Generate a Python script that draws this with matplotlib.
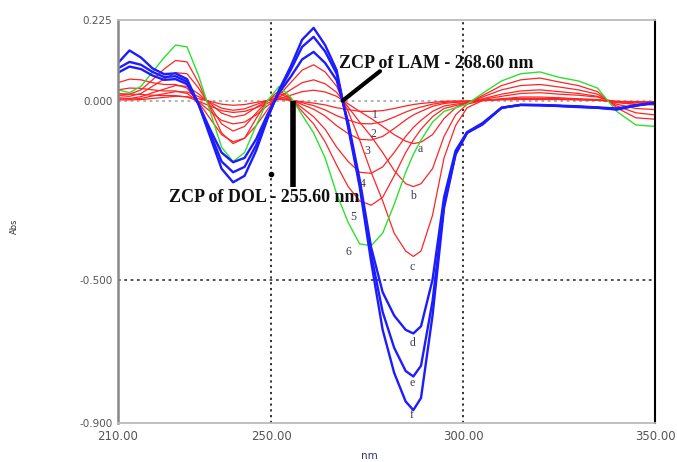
import matplotlib.pyplot as plt

# wavelength grid (nm)
wl = [210, 213, 216, 219, 222, 225, 228, 231, 234, 237, 240, 243, 246, 249, 252, 255, 258,
      261, 264, 267, 270, 273, 276, 279, 282, 285, 287, 289, 292, 295, 298, 301, 305, 310,
      315, 320, 325, 330, 335, 340, 345, 350]

# DOL curves 1-5 (red) and 6 (green)
dol1 = [0.002, 0.002, 0.003, 0.006, 0.009, 0.012, 0.011, 0.005, -0.002, -0.010, -0.013, -0.011,
        -0.005, 0.000, 0.003, 0.001, -0.003, -0.007, -0.012, -0.020, -0.025, -0.030, -0.030, -0.028,
        -0.022, -0.015, -0.011, -0.008, -0.005, -0.002, -0.001, -0.001, 0.001, 0.004, 0.006, 0.006,
        0.005, 0.004, 0.003, -0.002, -0.005, -0.005]
dol2 = [0.005, 0.004, 0.006, 0.013, 0.019, 0.025, 0.024, 0.011, -0.005, -0.021, -0.027, -0.023,
        -0.011, 0.000, 0.006, 0.002, -0.006, -0.014, -0.026, -0.042, -0.054, -0.064, -0.065, -0.059,
        -0.046, -0.032, -0.024, -0.018, -0.010, -0.005, -0.003, -0.002, 0.003, 0.012, 0.020, 0.022,
        0.018, 0.015, 0.010, -0.005, -0.011, -0.012]
dol3 = [0.008, 0.006, 0.011, 0.022, 0.032, 0.042, 0.040, 0.019, -0.008, -0.035, -0.046, -0.040,
        -0.019, 0.000, 0.011, 0.003, -0.011, -0.024, -0.043, -0.070, -0.092, -0.108, -0.110, -0.100,
        -0.078, -0.054, -0.040, -0.030, -0.016, -0.008, -0.005, -0.003, 0.005, 0.018, 0.027, 0.030,
        0.025, 0.020, 0.012, -0.010, -0.022, -0.025]
dol4 = [0.014, 0.012, 0.020, 0.040, 0.060, 0.078, 0.075, 0.035, -0.015, -0.065, -0.085, -0.072,
        -0.035, 0.000, 0.020, 0.005, -0.020, -0.045, -0.080, -0.130, -0.170, -0.200, -0.203, -0.185,
        -0.145, -0.100, -0.075, -0.055, -0.030, -0.015, -0.010, -0.005, 0.010, 0.030, 0.042, 0.045,
        0.038, 0.030, 0.018, -0.015, -0.034, -0.040]
dol5 = [0.020, 0.018, 0.030, 0.058, 0.088, 0.112, 0.108, 0.050, -0.020, -0.090, -0.120, -0.105,
        -0.050, 0.000, 0.028, 0.007, -0.030, -0.065, -0.115, -0.180, -0.240, -0.280, -0.292, -0.270,
        -0.210, -0.145, -0.110, -0.080, -0.045, -0.022, -0.014, -0.007, 0.014, 0.042, 0.058, 0.063,
        0.052, 0.042, 0.025, -0.020, -0.048, -0.052]
dol6 = [0.030, 0.022, 0.040, 0.080, 0.120, 0.155, 0.150, 0.070, -0.030, -0.130, -0.170, -0.145,
        -0.070, 0.000, 0.040, 0.010, -0.040, -0.090, -0.160, -0.260, -0.340, -0.400, -0.405, -0.370,
        -0.290, -0.200, -0.150, -0.110, -0.060, -0.030, -0.020, -0.010, 0.020, 0.055, 0.075, 0.080,
        0.065, 0.055, 0.035, -0.030, -0.068, -0.072]

# LAM curves a-c (red) and d-f (blue)
lam_a = [0.015, 0.018, 0.017, 0.015, 0.014, 0.014, 0.010, -0.002, -0.015, -0.028, -0.033, -0.030,
         -0.020, -0.007, 0.005, 0.015, 0.025, 0.029, 0.024, 0.012, -0.009, -0.030, -0.050, -0.072,
         -0.095, -0.113, -0.120, -0.116, -0.095, -0.050, -0.020, -0.005, 0.000, 0.002, 0.003, 0.003,
         0.003, 0.002, 0.001, -0.002, -0.003, -0.003]
lam_b = [0.030, 0.035, 0.034, 0.030, 0.027, 0.027, 0.020, -0.003, -0.030, -0.055, -0.065, -0.060,
         -0.040, -0.014, 0.010, 0.030, 0.050, 0.058, 0.047, 0.023, -0.018, -0.060, -0.100, -0.145,
         -0.195, -0.232, -0.240, -0.232, -0.190, -0.100, -0.040, -0.010, 0.000, 0.004, 0.006, 0.006,
         0.005, 0.003, 0.001, -0.003, -0.006, -0.006]
lam_c = [0.050, 0.060, 0.058, 0.050, 0.045, 0.045, 0.035, -0.005, -0.050, -0.095, -0.115, -0.105,
         -0.070, -0.025, 0.015, 0.050, 0.085, 0.100, 0.080, 0.040, -0.030, -0.110, -0.200, -0.280,
         -0.370, -0.420, -0.435, -0.420, -0.320, -0.160, -0.070, -0.020, 0.000, 0.005, 0.010, 0.010,
         0.008, 0.005, 0.002, -0.005, -0.010, -0.010]
lam_d = [0.078, 0.095, 0.088, 0.070, 0.058, 0.060, 0.046, -0.010, -0.080, -0.145, -0.172, -0.160,
         -0.108, -0.038, 0.022, 0.066, 0.115, 0.136, 0.105, 0.057, -0.060, -0.220, -0.410, -0.535,
         -0.600, -0.640, -0.650, -0.630, -0.500, -0.270, -0.140, -0.088, -0.063, -0.020, -0.012, -0.012,
         -0.014, -0.016, -0.019, -0.022, -0.013, -0.006]
lam_e = [0.090, 0.108, 0.100, 0.080, 0.066, 0.068, 0.053, -0.010, -0.090, -0.170, -0.200, -0.185,
         -0.125, -0.045, 0.027, 0.085, 0.150, 0.178, 0.137, 0.075, -0.068, -0.230, -0.430, -0.590,
         -0.690, -0.755, -0.770, -0.740, -0.560, -0.290, -0.150, -0.090, -0.065, -0.020, -0.012, -0.013,
         -0.015, -0.017, -0.020, -0.024, -0.014, -0.006]
lam_f = [0.105, 0.140, 0.120, 0.090, 0.074, 0.076, 0.060, -0.010, -0.100, -0.190, -0.228, -0.210,
         -0.140, -0.050, 0.030, 0.095, 0.170, 0.203, 0.155, 0.085, -0.075, -0.240, -0.450, -0.640,
         -0.760, -0.840, -0.864, -0.830, -0.600, -0.300, -0.150, -0.090, -0.067, -0.020, -0.012, -0.013,
         -0.015, -0.018, -0.020, -0.025, -0.014, -0.006]

# curve labels and where they sit (nm, Abs)
labels = ["1", "2", "3", "4", "5", "6", "a", "b", "c", "d", "e", "f"]
label_x = [276.9, 276.5, 274.9, 273.9, 271.3, 270.0, 288.7, 286.9, 286.6, 286.9, 286.6, 286.6]
label_y = [-0.039, -0.094, -0.142, -0.233, -0.325, -0.422, -0.136, -0.267, -0.464, -0.678, -0.789, -0.878]

red = "#ff2424"
blue = "#1c1cff"
green = "#2ee02e"

fig = plt.figure(figsize=(6.77, 4.62), dpi=100)
ax = fig.add_axes([0.1743, 0.0844, 0.7932, 0.8723])

for y in [dol1, dol2, dol3, dol4, dol5, lam_a, lam_b, lam_c]:
    ax.plot(wl, y, color=red, lw=0.9, solid_joinstyle="round")
ax.plot(wl, dol6, color=green, lw=1.0, solid_joinstyle="round")
for y in [lam_d, lam_e, lam_f]:
    ax.plot(wl, y, color=blue, lw=1.7, solid_joinstyle="round")

ax.set_xlim(210, 350)
ax.set_ylim(-0.9, 0.225)

# dotted grid
ax.axvline(250, color="#222222", lw=1.3, ls=(0, (1.2, 2)), zorder=0)
ax.axvline(300, color="#222222", lw=1.3, ls=(0, (1.2, 2)), zorder=0)
ax.axhline(0, color="#aaaaaa", lw=1.3, ls=(0, (1.5, 2)), zorder=0)
ax.axhline(-0.5, color="#444444", lw=1.3, ls=(0, (1.5, 2)), zorder=0)

ax.set_xticks([210, 250, 300, 350])
ax.set_xticklabels(["210.00", "250.00", "300.00", "350.00"])
ax.set_yticks([0.225, 0.0, -0.5, -0.9])
ax.set_yticklabels(["0.225", "0.000", "-0.500", "-0.900"])
ax.tick_params(length=0, labelsize=7.5, labelcolor="#555555", pad=4)
ax.tick_params(axis="x", labelsize=8.5, pad=5)

ax.spines["left"].set_color("#888888")
ax.spines["left"].set_linewidth(1.8)
ax.spines["right"].set_color("black")
ax.spines["right"].set_linewidth(1.5)
for s in ["top", "bottom"]:
    ax.spines[s].set_color("#bbbbbb")
    ax.spines[s].set_linestyle((0, (2, 1)))
    ax.spines[s].set_linewidth(1.3)

fig.text(0.022, 0.51, "Abs", rotation=90, fontsize=6, color="#333333", ha="center", va="center")
fig.text(0.545, 0.002, "nm", fontsize=7.5, color="#333366", ha="center", va="bottom")

# zero crossing markers
ax.plot([255.6, 255.6], [0.0, -0.24], color="black", lw=4, solid_capstyle="butt")
ax.plot([268.6, 278.3], [0.0, 0.082], color="black", lw=3, solid_capstyle="round")
ax.plot([250], [-0.205], marker="o", color="black", ms=3)
ax.text(248.0, -0.27, "ZCP of DOL - 255.60 nm", fontsize=13, fontweight="bold",
        family="Liberation Serif", color="#111111", ha="center", va="center")
ax.text(267.7, 0.103, "ZCP of LAM - 268.60 nm", fontsize=13, fontweight="bold",
        family="Liberation Serif", color="#111111", ha="left", va="center")

for t, lx, ly in zip(labels, label_x, label_y):
    ax.text(lx, ly, t, fontsize=8.5, family="Liberation Serif", color="#3a3a55",
            ha="center", va="center")

fig.savefig("out.png", dpi=100)
